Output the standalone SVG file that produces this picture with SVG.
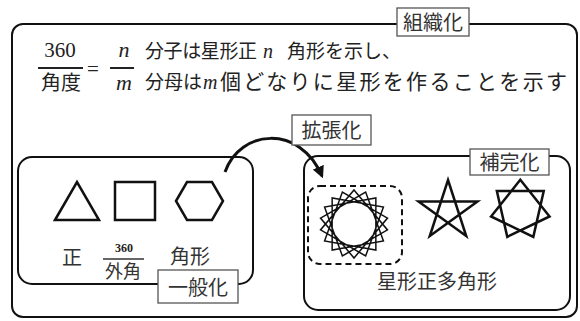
<svg xmlns="http://www.w3.org/2000/svg" width="580" height="321" viewBox="0 0 580 321">
<defs>
<style>
.box{fill:none;stroke:#111;stroke-width:2}
.lbl{fill:#fff;stroke:#555;stroke-width:1.3}
.lt{font-family:"Noto Sans CJK JP","Noto Sans CJK SC",sans-serif;font-size:20px;fill:#333;text-anchor:middle}
.jp{font-family:"Noto Sans CJK JP","Noto Sans CJK SC",sans-serif;font-size:19px;fill:#222}
.num{font-family:"Liberation Serif",serif;font-size:21px;fill:#222}
.it{font-family:"Liberation Serif",serif;font-style:italic;font-size:22px;fill:#222}
.shape{fill:none;stroke:#111;stroke-width:2.5;stroke-linejoin:miter}
.frac{stroke:#222;stroke-width:2}
</style>
<marker id="ah" viewBox="0 0 10 10" refX="8" refY="5" markerWidth="4" markerHeight="4" orient="auto" markerUnits="strokeWidth">
<path d="M0,0 L10,5 L0,10 z" fill="#111"/>
</marker>
</defs>
<rect width="580" height="321" fill="#fff"/>

<g id="outer">
<rect class="box" x="12" y="24" width="565" height="293" rx="11"/>
<rect class="lbl" x="397" y="8" width="72" height="28"/>
<text class="lt" x="433" y="30">組織化</text>
</g>

<g id="formula">
<text class="num" x="60" y="57" text-anchor="middle">360</text>
<line class="frac" x1="38" y1="68" x2="83" y2="68"/>
<text class="jp" x="61" y="90" text-anchor="middle" style="font-size:20px">角度</text>
<text class="num" x="93" y="76" text-anchor="middle">=</text>
<text class="it" x="124" y="57" text-anchor="middle">n</text>
<line class="frac" x1="110" y1="68" x2="134" y2="68"/>
<text class="it" x="124" y="90" text-anchor="middle">m</text>
<text class="jp" x="145" y="58" textLength="112" lengthAdjust="spacing">分子は星形正</text>
<text class="it" x="263" y="58" style="font-size:20px">n</text>
<text class="jp" x="287" y="58">角形を示し、</text>
<text class="jp" x="145" y="89">分母は</text>
<text class="it" x="203" y="89" style="font-size:20px">m</text>
<text class="jp" x="220" y="89" style="font-size:21px" textLength="347" lengthAdjust="spacing">個どなりに星形を作ることを示す</text>
</g>

<g id="connectors">
<path d="M225,172 C240,129 300,124 322,176" fill="none" stroke="#111" stroke-width="3" marker-end="url(#ah)"/>
</g>

<g id="label-kakuchou">
<rect class="lbl" x="292" y="115" width="79" height="30"/>
<text class="lt" x="331.5" y="138">拡張化</text>
</g>

<g id="regular-polygons">
<rect class="box" x="18" y="157" width="235" height="127" rx="14"/>
<polygon class="shape" points="55,220 77,182 99,220"/>
<rect class="shape" x="115" y="182" width="40" height="38"/>
<polygon class="shape" points="176,201 187,182 212,182 223,201 212,220 187,220"/>
<text class="lt" x="72" y="265">正</text>
<text class="num" x="124" y="252" text-anchor="middle" style="font-size:12px;font-weight:bold">360</text>
<line x1="103" y1="259" x2="144" y2="259" stroke="#333" stroke-width="1.5"/>
<text class="lt" x="123" y="278" style="font-size:18px">外角</text>
<text class="lt" x="190" y="264">角形</text>
<rect class="lbl" x="158" y="270" width="80" height="33"/>
<text class="lt" x="198" y="295">一般化</text>
</g>

<g id="star-polygons">
<rect class="box" x="304" y="156" width="266" height="154" rx="14"/>
<rect x="308" y="186" width="94" height="78" rx="12" fill="none" stroke="#111" stroke-width="2" stroke-dasharray="6,4"/>
<polygon fill="none" stroke="#111" stroke-width="1.5" stroke-linejoin="miter" points="354,190 387.48,229.90 342.37,255.95 324.56,207 375.85,197.96 375.85,250.04 324.56,241 342.37,192.05 387.48,218.10 354,258 320.52,218.10 365.63,192.05 383.44,241 332.15,250.04 332.15,197.96 383.44,207 365.63,255.95 320.52,229.90"/>
<polygon class="shape" points="448,180 466.22,236.08 418.52,201.42 477.48,201.42 429.78,236.08"/>
<polygon class="shape" points="520.3,179.8 549.55,216.48 507.28,236.83 496.85,191.09 543.75,191.09 533.32,236.83 491.05,216.48"/>
<text class="lt" x="437" y="289">星形正多角形</text>
<rect class="lbl" x="470" y="149" width="79" height="26"/>
<text class="lt" x="509.5" y="170">補完化</text>
</g>
</svg>
